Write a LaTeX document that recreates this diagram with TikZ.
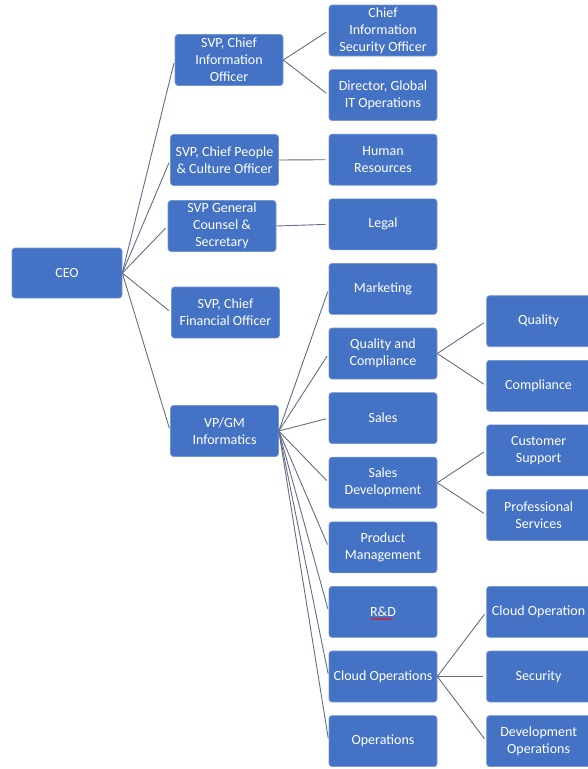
\documentclass[tikz,border=0pt]{standalone}
\usepackage{fontspec}
\setmainfont{Carlito}
\definecolor{orgblue}{RGB}{68,114,196}
\definecolor{linkgray}{RGB}{100,108,135}
\usetikzlibrary{calc}
\usetikzlibrary{positioning}
\usetikzlibrary{decorations.pathmorphing}
\tikzset{
  orgbox/.style={
    fill=orgblue, draw=orgblue!75!white, line width=0.6pt,
    rounded corners=3pt, text=white, align=center,
    minimum width=108pt, minimum height=51pt, inner sep=1.5pt,
    font=\fontsize{14}{17}\selectfont
  },
  leafbox/.style={orgbox, minimum width=104pt},
  link/.style={draw=linkgray, line width=0.9pt, shorten >=3pt}
}

\begin{document}
\begin{tikzpicture}[x=1pt, y=-1pt, node distance=13pt and 49pt]
  \useasboundingbox (0,0) rectangle (587,769);

  \node (ceo) [orgbox, minimum width=110pt, minimum height=50pt] at (67,273) {CEO};

  \node (cio) [orgbox] at (229,60) {SVP, Chief\\Information\\Officer};
  \node (cpco) [orgbox] at (224.5,160) {SVP, Chief People\\\& Culture Officer};
  \node (gc) [orgbox] at (222,226) {SVP General\\Counsel \&\\Secretary};
  \node (cfo) [orgbox] at (225.5,312.5) {SVP, Chief\\Financial Officer};
  \node (vpgm) [orgbox] at (224.5,431) {VP/GM\\Informatics};

  \node (ciso) [orgbox] at (383,30.5) {Chief\\Information\\Security Officer};
  \node (itops) [orgbox, below=of ciso] {Director, Global\\IT Operations};
  \node (hr) [orgbox, below=of itops] {Human\\Resources};
  \node (legal) [orgbox, below=of hr] {Legal};
  \node (mkt) [orgbox, below=of legal] {Marketing};
  \node (qc) [orgbox, below=of mkt] {Quality and\\Compliance};
  \node (sales) [orgbox, below=of qc] {Sales};
  \node (sdev) [orgbox, below=of sales] {Sales\\Development};
  \node (pm) [orgbox, below=of sdev] {Product\\Management};
  \node (rd) [orgbox, below=of pm] {R\&D};
  \node (cloud) [orgbox, below=of rd] {Cloud Operations};
  \node (ops) [orgbox, below=of cloud] {Operations};

  \node (qual) [leafbox, anchor=west] at ([xshift=49pt]$(mkt.east)!.5!(qc.east)$) {Quality};
  \node (compl) [leafbox, below=of qual] {Compliance};
  \node (cust) [leafbox, below=of compl] {Customer\\Support};
  \node (prof) [leafbox, below=of cust] {Professional\\Services};
  \node (cloudop) [leafbox, right=of rd] {Cloud Operation};
  \node (sec) [leafbox, right=of cloud] {Security};
  \node (devops) [leafbox, right=of ops] {Development\\Operations};

  \draw [red, line width=0.6pt, decorate, decoration={snake, amplitude=0.8pt, segment length=3pt}]
    ([xshift=-12pt, yshift=-7pt]rd.center) -- ([xshift=10pt, yshift=-7pt]rd.center);

  \foreach \n in {cio,cpco,gc,cfo,vpgm}
    \draw [link] (ceo.east) -- (\n.west);
  \foreach \n in {ciso,itops}
    \draw [link] (cio.east) -- (\n.west);
  \draw [link] (cpco.east) -- (hr.west);
  \draw [link] (gc.east) -- (legal.west);
  \foreach \n in {mkt,qc,sales,sdev,pm,rd,cloud,ops}
    \draw [link] (vpgm.east) -- (\n.west);
  \foreach \n in {qual,compl}
    \draw [link] (qc.east) -- (\n.west);
  \foreach \n in {cust,prof}
    \draw [link] (sdev.east) -- (\n.west);
  \foreach \n in {cloudop,sec,devops}
    \draw [link] (cloud.east) -- (\n.west);
\end{tikzpicture}
\end{document}
